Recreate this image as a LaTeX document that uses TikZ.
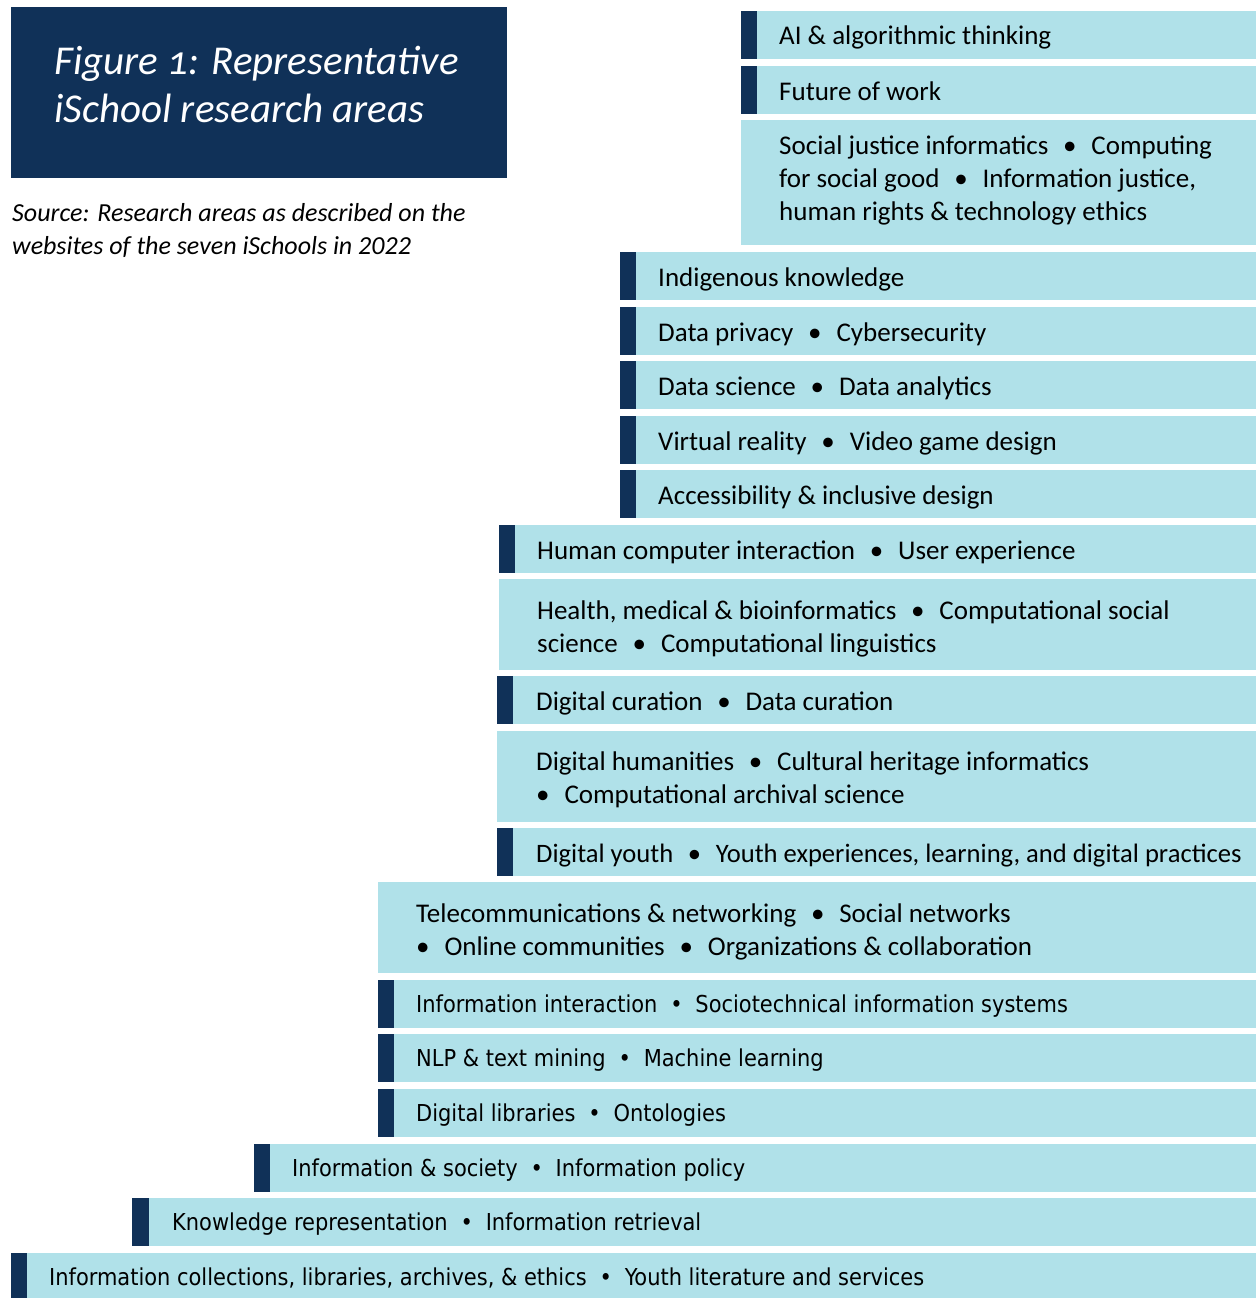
\documentclass[tikz,border=0pt]{standalone}
\usepackage{fontspec}
\setmainfont{Carlito}
\newfontfamily\tahf{DejaVu Sans Condensed}
\newfontfamily\titlef{Carlito}[Numbers=OldStyle]
\definecolor{navy}{RGB}{16,49,88}
\definecolor{pale}{RGB}{176,225,233}
\newcommand\bul{\hspace{0.55em}\textbullet\hspace{0.55em}}
\newcommand\bult{\hspace{0.55em}\textbullet\hspace{0.55em}}
\tikzset{
  rowbg/.style={fill=pale, draw=none, inner sep=0pt, anchor=north west},
  barbox/.style={fill=navy, draw=none, inner sep=0pt, minimum width=16pt, anchor=north west},
  lblA/.style={inner sep=0pt, anchor=base west, align=left, font={\fontsize{27}{33}\selectfont}},
  lblB/.style={inner sep=0pt, anchor=base west, align=left, font={\fontsize{27}{33}\selectfont}},
  lblC/.style={inner sep=0pt, anchor=base west, align=left, font={\tahf\fontsize{23.3}{33}\selectfont}},
}
\begin{document}
\begin{tikzpicture}[x=1pt,y=-1pt]
\useasboundingbox (0,0) rectangle (1256,1298);
% title
\node[fill=navy, inner sep=0pt, anchor=north west, minimum width=496pt, minimum height=171pt] (title) at (11,7) {};
\node[inner sep=0pt, anchor=base west, align=left, text=white, font={\titlef\itshape\fontsize{41}{48}\selectfont}] (titletext) at (54,122) {Figure 1: Representative\\iSchool research areas};
\node[inner sep=0pt, anchor=base west, align=left, font={\itshape\fontsize{26}{33}\selectfont}] (source) at (12,254) {Source: Research areas as described on the\\websites of the seven iSchools in 2022};

% rows: backgrounds
\node[rowbg, minimum width=515pt, minimum height=48pt] (r1) at (741,11) {};
\node[rowbg, minimum width=515pt, minimum height=48pt] (r2) at (741,66) {};
\node[rowbg, minimum width=515pt, minimum height=125pt] (r3) at (741,120) {};
\node[rowbg, minimum width=636pt, minimum height=48pt] (r4) at (620,252) {};
\node[rowbg, minimum width=636pt, minimum height=48pt] (r5) at (620,307) {};
\node[rowbg, minimum width=636pt, minimum height=48pt] (r6) at (620,361) {};
\node[rowbg, minimum width=636pt, minimum height=48pt] (r7) at (620,416) {};
\node[rowbg, minimum width=636pt, minimum height=48pt] (r8) at (620,470) {};
\node[rowbg, minimum width=757pt, minimum height=48pt] (r9) at (499,525) {};
\node[rowbg, minimum width=757pt, minimum height=91pt] (r10) at (499,579) {};
\node[rowbg, minimum width=759pt, minimum height=48pt] (r11) at (497,676) {};
\node[rowbg, minimum width=759pt, minimum height=91pt] (r12) at (497,731) {};
\node[rowbg, minimum width=759pt, minimum height=48pt] (r13) at (497,828) {};
\node[rowbg, minimum width=878pt, minimum height=91pt] (r14) at (378,882) {};
\node[rowbg, minimum width=878pt, minimum height=48pt] (r15) at (378,980) {};
\node[rowbg, minimum width=878pt, minimum height=48pt] (r16) at (378,1034) {};
\node[rowbg, minimum width=878pt, minimum height=48pt] (r17) at (378,1089) {};
\node[rowbg, minimum width=1002pt, minimum height=48pt] (r18) at (254,1144) {};
\node[rowbg, minimum width=1124pt, minimum height=48pt] (r19) at (132,1198) {};
\node[rowbg, minimum width=1245pt, minimum height=45pt] (r20) at (11,1253) {};

% bars
\node[barbox, minimum height=48pt] (b1) at (741,11) {};
\node[barbox, minimum height=48pt] (b2) at (741,66) {};
\node[barbox, minimum height=48pt] (b4) at (620,252) {};
\node[barbox, minimum height=48pt] (b5) at (620,307) {};
\node[barbox, minimum height=48pt] (b6) at (620,361) {};
\node[barbox, minimum height=48pt] (b7) at (620,416) {};
\node[barbox, minimum height=48pt] (b8) at (620,470) {};
\node[barbox, minimum height=48pt] (b9) at (499,525) {};
\node[barbox, minimum height=48pt] (b11) at (497,676) {};
\node[barbox, minimum height=48pt] (b13) at (497,828) {};
\node[barbox, minimum height=48pt] (b15) at (378,980) {};
\node[barbox, minimum height=48pt] (b16) at (378,1034) {};
\node[barbox, minimum height=48pt] (b17) at (378,1089) {};
\node[barbox, minimum height=48pt] (b18) at (254,1144) {};
\node[barbox, minimum height=48pt, minimum width=17pt] (b19) at (132,1198) {};
\node[barbox, minimum height=45pt] (b20) at (11,1253) {};

% texts (multi-line nodes are anchored at the baseline of their last line)
\node[lblA] (t1) at (779,45) {AI \& algorithmic thinking};
\node[lblA] (t2) at (779,100) {Future of work};
\node[lblA] (t3) at (779,220) {Social justice informatics\bul Computing\\for social good\bul Information justice,\\human rights \& technology ethics};
\node[lblA] (t4) at (658,286) {Indigenous knowledge};
\node[lblA] (t5) at (658,341) {Data privacy\bul Cybersecurity};
\node[lblA] (t6) at (658,395) {Data science\bul Data analytics};
\node[lblA] (t7) at (658,450) {Virtual reality\bul Video game design};
\node[lblA] (t8) at (658,504) {Accessibility \& inclusive design};
\node[lblA] (t9) at (537,559) {Human computer interaction\bul User experience};
\node[lblB] (t10) at (537,652) {Health, medical \& bioinformatics\bul Computational social\\science\bul Computational linguistics};
\node[lblA] (t11) at (536,710) {Digital curation\bul Data curation};
\node[lblA] (t12) at (536,803) {Digital humanities\bul Cultural heritage informatics\\\textbullet\hspace{0.55em}Computational archival science};
\node[lblB, font={\fontsize{26.6}{33}\selectfont}] (t13) at (536,862) {Digital youth\bul Youth experiences, learning, and digital practices};
\node[lblB] (t14) at (416,955) {Telecommunications \& networking\bul Social networks\\\textbullet\hspace{0.55em}Online communities\bul Organizations \& collaboration};
\node[lblC] (t15) at (416,1012) {Information interaction\bult Sociotechnical information systems};
\node[lblC] (t16) at (416,1066) {NLP \& text mining\bult Machine learning};
\node[lblC] (t17) at (416,1121) {Digital libraries\bult Ontologies};
\node[lblC] (t18) at (292,1176) {Information \& society\bult Information policy};
\node[lblC] (t19) at (172,1230) {Knowledge representation\bult Information retrieval};
\node[lblC] (t20) at (49,1285) {Information collections, libraries, archives, \& ethics\bult Youth literature and services};
\end{tikzpicture}
\end{document}
